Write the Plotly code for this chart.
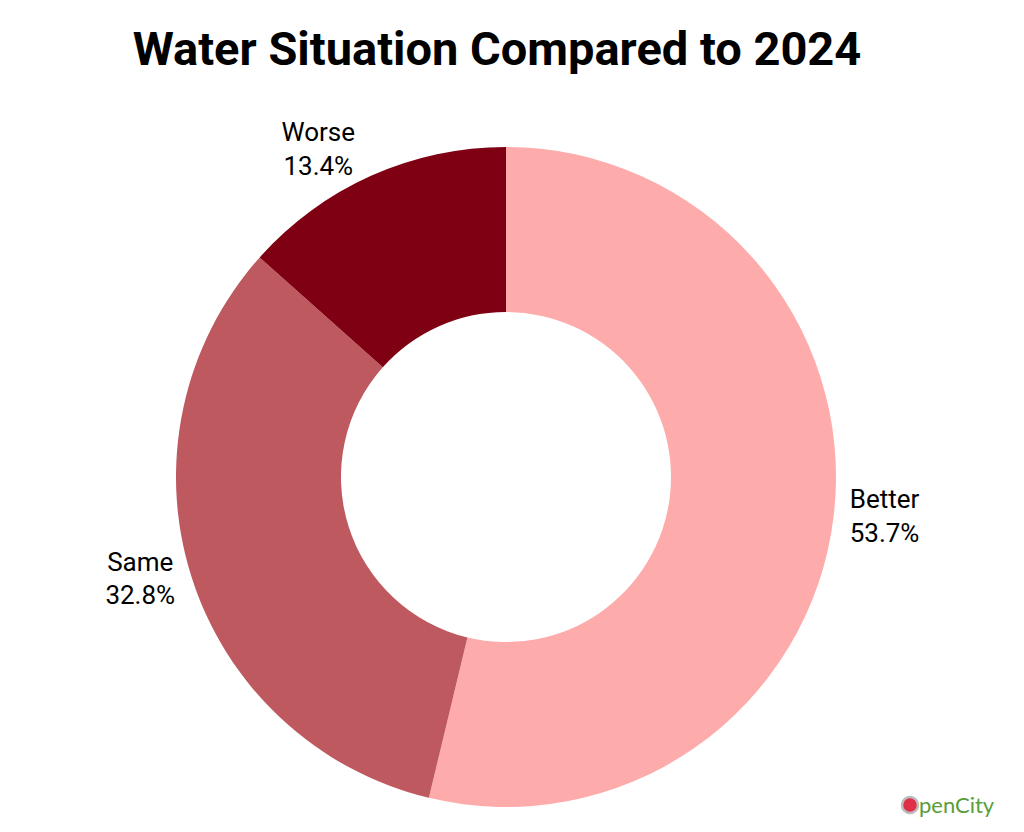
import plotly.graph_objects as go

labels = ["Better", "Same", "Worse"]
values = [53.7, 32.8, 13.4]
colors = ["#FEABAB", "#BF5960", "#7E0012"]

W, H = 1024, 832
# page offset of the browser's body margin
OFF = 8

cx_pie, cy_pie, rad = 506 - OFF, 477 - OFF, 330

fig = go.Figure(go.Pie(
    labels=labels,
    values=values,
    hole=0.5,
    sort=False,
    direction="clockwise",
    rotation=0,
    automargin=False,
    marker=dict(colors=colors, line=dict(width=0)),
    textposition="outside",
    texttemplate="%{label}<br>%{value:.1f}%",
    textfont=dict(family="Roboto", size=26, color="#000000"),
    showlegend=False,
    hoverinfo="label+value",
    domain=dict(x=[0, 2 * cx_pie / W],
                y=[1 - (cy_pie + rad) / H, 1 - (cy_pie - rad) / H]),
))

fig.update_layout(
    width=W, height=H,
    margin=dict(l=0, r=0, t=0, b=0, autoexpand=False),
    paper_bgcolor="white",
    plot_bgcolor="white",
    title=dict(text="<b>Water Situation Compared to 2024</b>",
               font=dict(family="Roboto", size=47, color="#000000"),
               x=(497 - OFF) / W, xanchor="center",
               y=1 - (48.5 - OFF) / H, yanchor="middle"),
    font=dict(family="Roboto"),
)

# logo
lx, ly, r = 910 - OFF, 805 - OFF, 8
fig.add_shape(type="circle", xref="paper", yref="paper",
              x0=(lx - r) / W, x1=(lx + r) / W,
              y0=1 - (ly + r) / H, y1=1 - (ly - r) / H,
              fillcolor="#E03048", line=dict(color="#BBBBBB", width=2.5))
fig.add_annotation(text="penCity", xref="paper", yref="paper",
                   x=(917 - OFF) / W, y=1 - (ly - 1) / H,
                   xanchor="left", yanchor="middle",
                   showarrow=False,
                   font=dict(family="Lato", size=22, color="#5A9E3A"))

fig.write_html("out.html")
